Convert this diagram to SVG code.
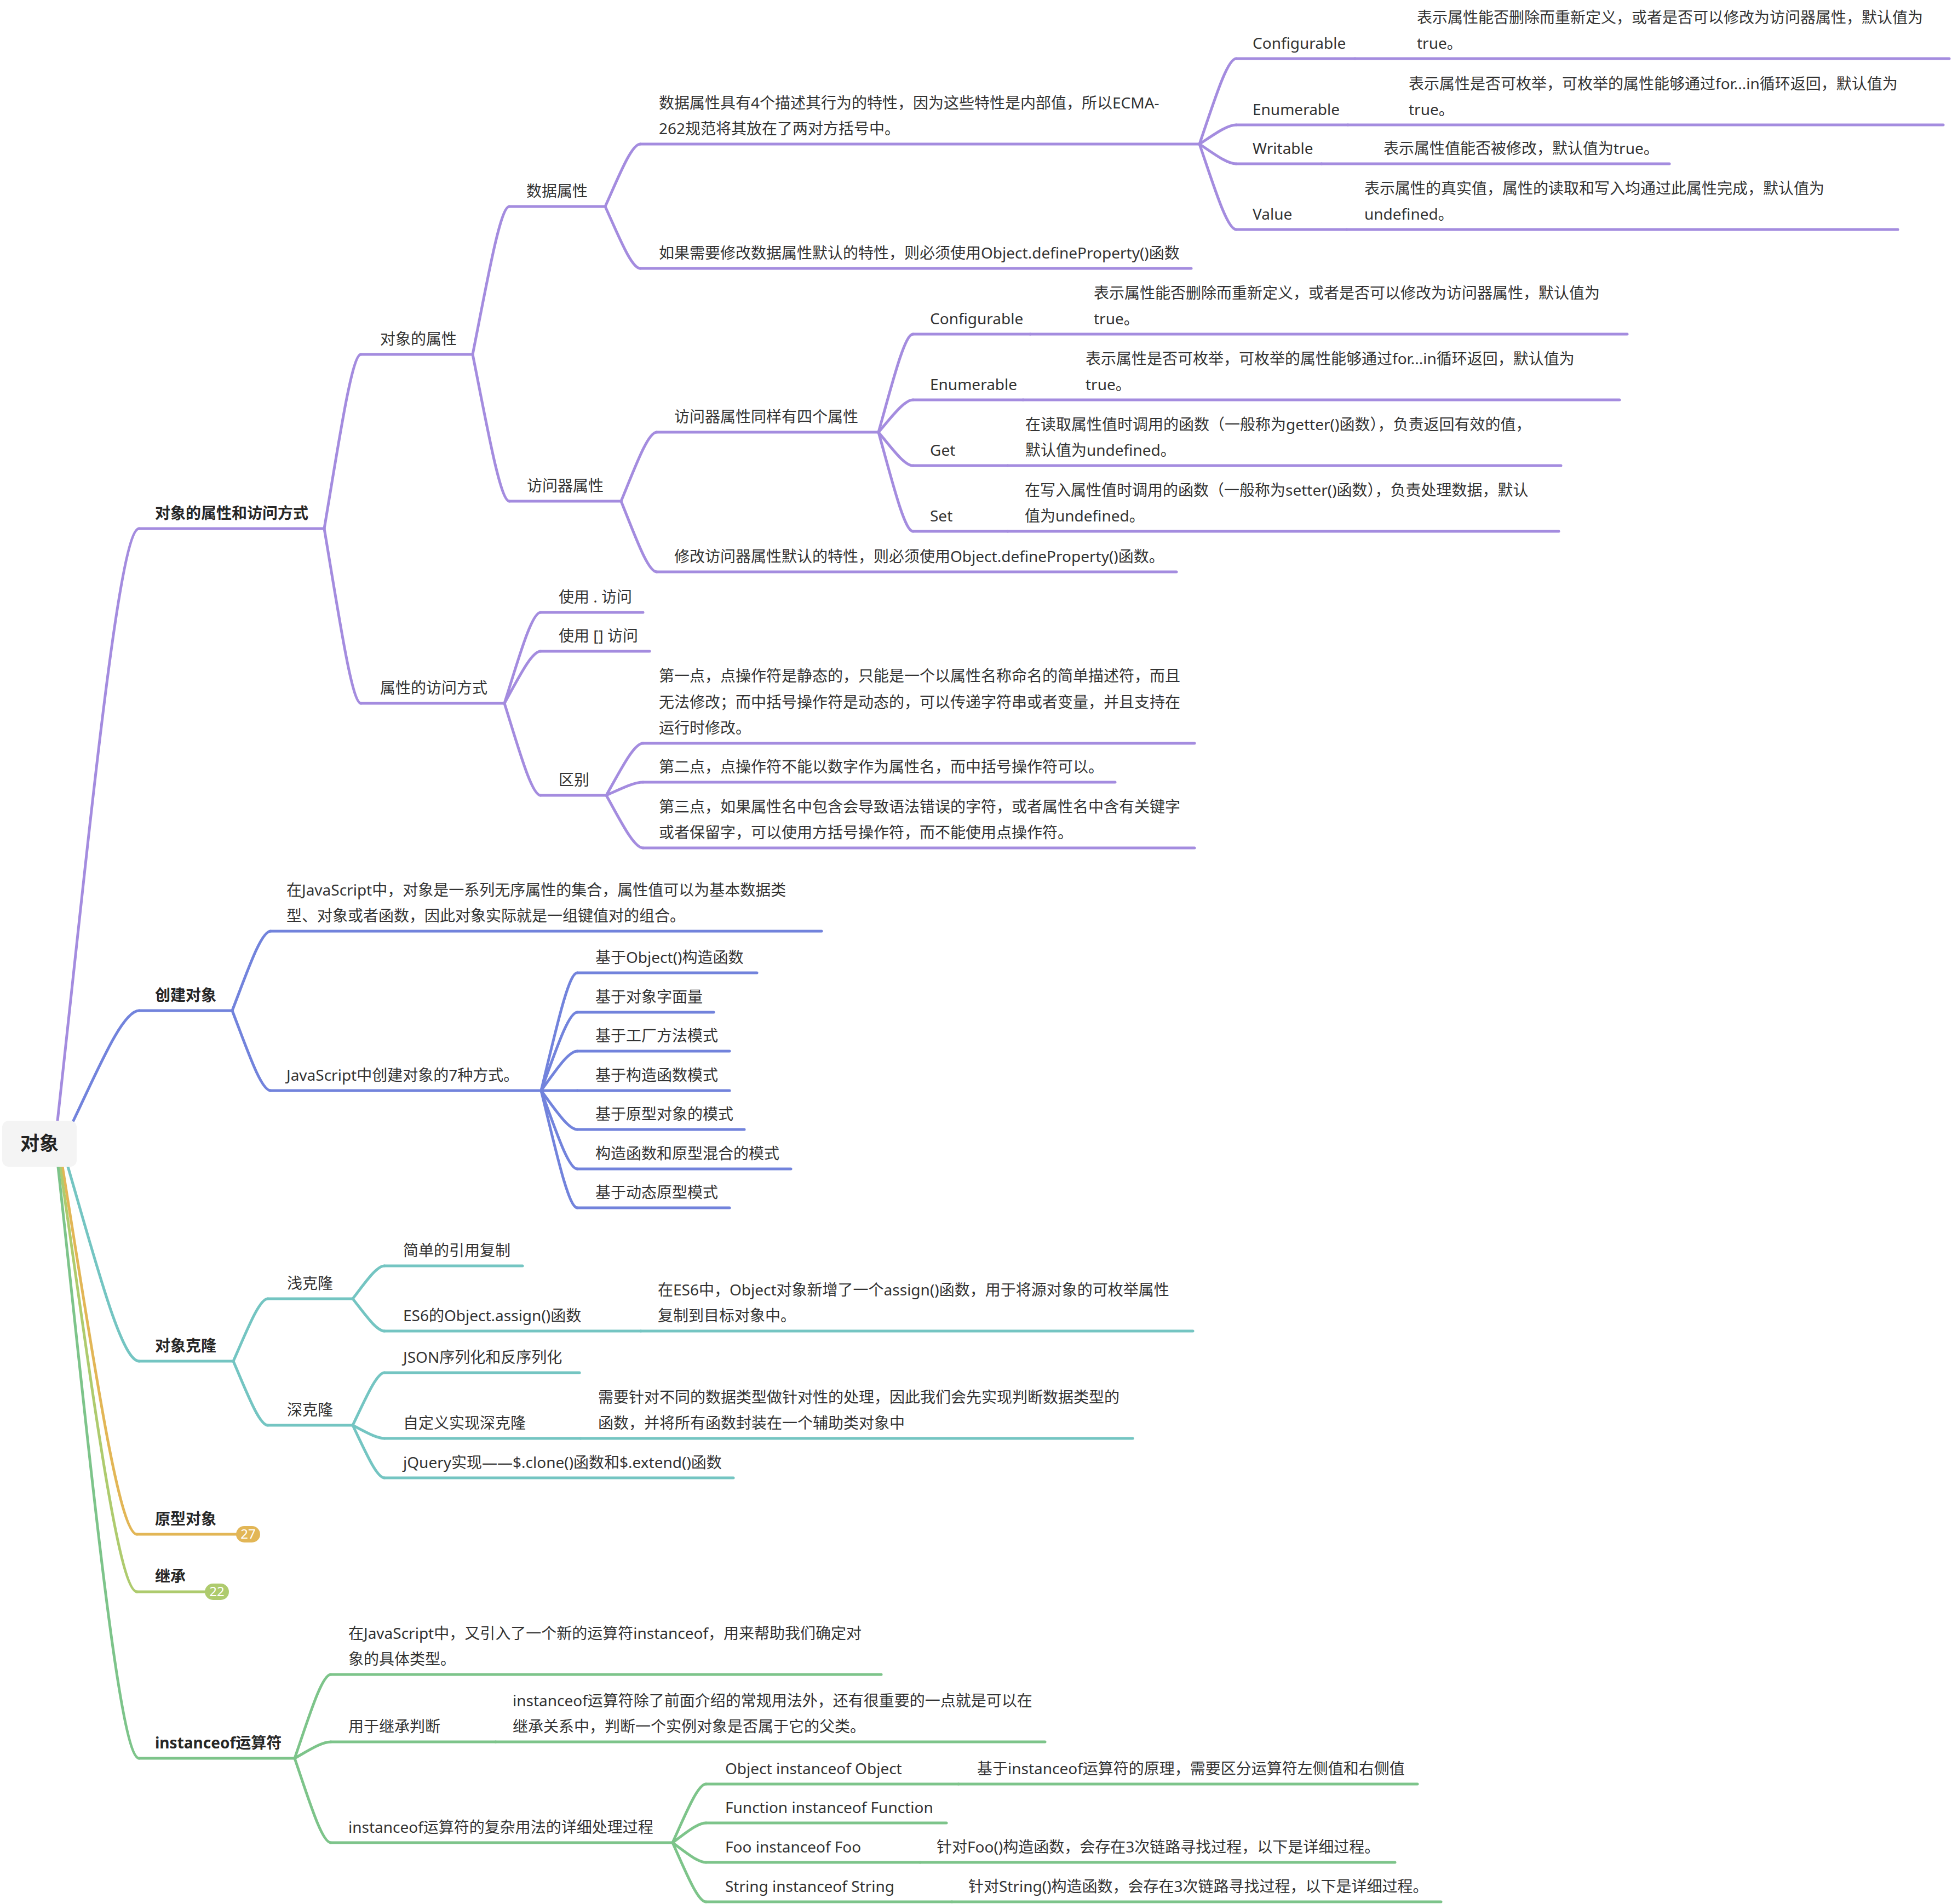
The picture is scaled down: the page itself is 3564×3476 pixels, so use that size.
<svg xmlns="http://www.w3.org/2000/svg" width="3564" height="3476" viewBox="0 0 3564 3476">
<style>
text{font-family:"Noto Sans","Noto Sans CJK SC",sans-serif;font-size:28px;fill:#333}
.b{font-weight:bold;fill:#262626}
.root{font-size:35px;font-weight:bold;fill:#222}
.badge{font-size:24px;fill:#fff}
path{fill:none;stroke-width:5;stroke-linecap:round}
.p{stroke:#A48CDF}
.bl{stroke:#7283DC}
.tl{stroke:#74C5C2}
.gd{stroke:#E2B656}
.yg{stroke:#AECB6E}
.gr{stroke:#7DC48A}
</style>
<rect width="3564" height="3476" fill="#fff"/>
<g id="connectors">
<path class="p" d="M105,2046 C164.6,1505.5 216.8,965 254,965"/>
<path class="bl" d="M134,2046 C182,1945.5 224,1845 254,1845"/>
<path class="tl" d="M124,2130 C176,2307.5 221.5,2485 254,2485"/>
<path class="gd" d="M114,2130 C168.4,2465.5 216,2801 250,2801"/>
<path class="yg" d="M110,2130 C166,2518 215,2906 250,2906"/>
<path class="gr" d="M106,2130 C165.2,2670 217,3210 254,3210"/>
<path class="p" d="M592,965 C618.8,806 642.3,647 659,647"/>
<path class="p" d="M592,965 C618.8,1124.5 642.3,1284 659,1284"/>
<path class="p" d="M863,647 C889.8,512 913.3,377 930,377"/>
<path class="p" d="M863,647 C889.8,781 913.3,915 930,915"/>
<path class="p" d="M1105,377 C1130.6,320 1153,263 1169,263"/>
<path class="p" d="M1105,377 C1130.6,433.5 1153,490 1169,490"/>
<path class="p" d="M2190,263 C2216.8,185 2240.3,107 2257,107"/>
<path class="p" d="M2190,263 C2216.8,245.5 2240.3,228 2257,228"/>
<path class="p" d="M2190,263 C2216.8,281 2240.3,299 2257,299"/>
<path class="p" d="M2190,263 C2216.8,341 2240.3,419 2257,419"/>
<path class="p" d="M1134,915 C1160,852 1182.8,789 1199,789"/>
<path class="p" d="M1134,915 C1160,979.5 1182.8,1044 1199,1044"/>
<path class="p" d="M1604,789 C1629.2,699.5 1651.3,610 1667,610"/>
<path class="p" d="M1604,789 C1629.2,759.5 1651.3,730 1667,730"/>
<path class="p" d="M1604,789 C1629.2,819.5 1651.3,850 1667,850"/>
<path class="p" d="M1604,789 C1629.2,879.5 1651.3,970 1667,970"/>
<path class="p" d="M921,1284 C947.4,1201 970.5,1118 987,1118"/>
<path class="p" d="M921,1284 C947.4,1236.5 970.5,1189 987,1189"/>
<path class="p" d="M921,1284 C947.4,1368 970.5,1452 987,1452"/>
<path class="p" d="M1107,1452 C1133.8,1404.5 1157.3,1357 1174,1357"/>
<path class="p" d="M1107,1452 C1133.8,1440 1157.3,1428 1174,1428"/>
<path class="p" d="M1107,1452 C1133.8,1500 1157.3,1548 1174,1548"/>
<path class="bl" d="M424,1845 C452,1772.5 476.5,1700 494,1700"/>
<path class="bl" d="M424,1845 C452,1918 476.5,1991 494,1991"/>
<path class="bl" d="M988,1991 C1014.4,1883.5 1037.5,1776 1054,1776"/>
<path class="bl" d="M988,1991 C1014.4,1919.5 1037.5,1848 1054,1848"/>
<path class="bl" d="M988,1991 C1014.4,1955 1037.5,1919 1054,1919"/>
<path class="bl" d="M988,1991 L1054,1991"/>
<path class="bl" d="M988,1991 C1014.4,2026.5 1037.5,2062 1054,2062"/>
<path class="bl" d="M988,1991 C1014.4,2062.5 1037.5,2134 1054,2134"/>
<path class="bl" d="M988,1991 C1014.4,2098 1037.5,2205 1054,2205"/>
<path class="tl" d="M426,2485 C451.2,2428 473.3,2371 489,2371"/>
<path class="tl" d="M426,2485 C451.2,2543.5 473.3,2602 489,2602"/>
<path class="tl" d="M644,2371 C667.2,2341 687.5,2311 702,2311"/>
<path class="tl" d="M644,2371 C667.2,2400.5 687.5,2430 702,2430"/>
<path class="tl" d="M644,2602 C667.2,2554 687.5,2506 702,2506"/>
<path class="tl" d="M644,2602 C667.2,2614 687.5,2626 702,2626"/>
<path class="tl" d="M644,2602 C667.2,2650 687.5,2698 702,2698"/>
<path class="gr" d="M538,3210 C564.4,3133.5 587.5,3057 604,3057"/>
<path class="gr" d="M538,3210 C564.4,3195 587.5,3180 604,3180"/>
<path class="gr" d="M538,3210 C564.4,3287 587.5,3364 604,3364"/>
<path class="gr" d="M1228,3364 C1252.4,3310.5 1273.8,3257 1289,3257"/>
<path class="gr" d="M1228,3364 C1252.4,3346 1273.8,3328 1289,3328"/>
<path class="gr" d="M1228,3364 C1252.4,3382 1273.8,3400 1289,3400"/>
<path class="gr" d="M1228,3364 C1252.4,3418 1273.8,3472 1289,3472"/>
</g>
<g id="n-root"><rect x="4" y="2046" width="136" height="84" rx="12" fill="#F4F4F4"/><text class="root" x="72" y="2100" text-anchor="middle">对象</text></g>
<g id="n-attr-access"><path class="p" d="M254,965 H592"/><text class="b" x="283" y="947">对象的属性和访问方式</text></g>
<g id="n-obj-attr"><path class="p" d="M659,647 H863"/><text x="694" y="629">对象的属性</text></g>
<g id="n-data-attr"><path class="p" d="M930,377 H1105"/><text x="961" y="359">数据属性</text></g>
<g id="n-data-desc"><path class="p" d="M1169,263 H2190"/><text x="1203" y="198">数据属性具有4个描述其行为的特性，因为这些特性是内部值，所以ECMA-</text><text x="1203" y="245">262规范将其放在了两对方括号中。</text></g>
<g id="n-d-configurable"><path class="p" d="M2257,107 H2474"/><text x="2287" y="89">Configurable</text></g>
<g id="n-d-configurable-desc"><path class="p" d="M2474,107 H3559"/><text x="2587" y="42">表示属性能否删除而重新定义，或者是否可以修改为访问器属性，默认值为</text><text x="2587" y="89">true。</text></g>
<g id="n-d-enumerable"><path class="p" d="M2257,228 H2461"/><text x="2287" y="210">Enumerable</text></g>
<g id="n-d-enumerable-desc"><path class="p" d="M2461,228 H3548"/><text x="2572" y="163">表示属性是否可枚举，可枚举的属性能够通过for...in循环返回，默认值为</text><text x="2572" y="210">true。</text></g>
<g id="n-d-writable"><path class="p" d="M2257,299 H2413"/><text x="2287" y="281">Writable</text></g>
<g id="n-d-writable-desc"><path class="p" d="M2413,299 H3048"/><text x="2526" y="281">表示属性值能否被修改，默认值为true。</text></g>
<g id="n-d-value"><path class="p" d="M2257,419 H2459"/><text x="2287" y="401">Value</text></g>
<g id="n-d-value-desc"><path class="p" d="M2459,419 H3465"/><text x="2491" y="354">表示属性的真实值，属性的读取和写入均通过此属性完成，默认值为</text><text x="2491" y="401">undefined。</text></g>
<g id="n-data-modify"><path class="p" d="M1169,490 H2175"/><text x="1203" y="472">如果需要修改数据属性默认的特性，则必须使用Object.defineProperty()函数</text></g>
<g id="n-accessor"><path class="p" d="M930,915 H1134"/><text x="962" y="897">访问器属性</text></g>
<g id="n-accessor-four"><path class="p" d="M1199,789 H1604"/><text x="1231" y="771">访问器属性同样有四个属性</text></g>
<g id="n-a-configurable"><path class="p" d="M1667,610 H1881"/><text x="1698" y="592">Configurable</text></g>
<g id="n-a-configurable-desc"><path class="p" d="M1881,610 H2971"/><text x="1997" y="545">表示属性能否删除而重新定义，或者是否可以修改为访问器属性，默认值为</text><text x="1997" y="592">true。</text></g>
<g id="n-a-enumerable"><path class="p" d="M1667,730 H1868"/><text x="1698" y="712">Enumerable</text></g>
<g id="n-a-enumerable-desc"><path class="p" d="M1868,730 H2957"/><text x="1982" y="665">表示属性是否可枚举，可枚举的属性能够通过for...in循环返回，默认值为</text><text x="1982" y="712">true。</text></g>
<g id="n-a-get"><path class="p" d="M1667,850 H1840"/><text x="1698" y="832">Get</text></g>
<g id="n-a-get-desc"><path class="p" d="M1840,850 H2850"/><text x="1872" y="785">在读取属性值时调用的函数（一般称为getter()函数），负责返回有效的值，</text><text x="1872" y="832">默认值为undefined。</text></g>
<g id="n-a-set"><path class="p" d="M1667,970 H1840"/><text x="1698" y="952">Set</text></g>
<g id="n-a-set-desc"><path class="p" d="M1840,970 H2846"/><text x="1871" y="905">在写入属性值时调用的函数（一般称为setter()函数），负责处理数据，默认</text><text x="1871" y="952">值为undefined。</text></g>
<g id="n-accessor-modify"><path class="p" d="M1199,1044 H2148"/><text x="1231" y="1026">修改访问器属性默认的特性，则必须使用Object.defineProperty()函数。</text></g>
<g id="n-access-way"><path class="p" d="M659,1284 H921"/><text x="694" y="1266">属性的访问方式</text></g>
<g id="n-dot"><path class="p" d="M987,1118 H1174"/><text x="1020" y="1100">使用 . 访问</text></g>
<g id="n-bracket"><path class="p" d="M987,1189 H1186"/><text x="1020" y="1171">使用 [] 访问</text></g>
<g id="n-diff"><path class="p" d="M987,1452 H1107"/><text x="1020" y="1434">区别</text></g>
<g id="n-diff1"><path class="p" d="M1174,1357 H2181"/><text x="1203" y="1244">第一点，点操作符是静态的，只能是一个以属性名称命名的简单描述符，而且</text><text x="1203" y="1292">无法修改；而中括号操作符是动态的，可以传递字符串或者变量，并且支持在</text><text x="1203" y="1339">运行时修改。</text></g>
<g id="n-diff2"><path class="p" d="M1174,1428 H2036"/><text x="1203" y="1410">第二点，点操作符不能以数字作为属性名，而中括号操作符可以。</text></g>
<g id="n-diff3"><path class="p" d="M1174,1548 H2181"/><text x="1203" y="1483">第三点，如果属性名中包含会导致语法错误的字符，或者属性名中含有关键字</text><text x="1203" y="1530">或者保留字，可以使用方括号操作符，而不能使用点操作符。</text></g>
<g id="n-create"><path class="bl" d="M254,1845 H424"/><text class="b" x="283" y="1827">创建对象</text></g>
<g id="n-create-desc"><path class="bl" d="M494,1700 H1500"/><text x="523" y="1635">在JavaScript中，对象是一系列无序属性的集合，属性值可以为基本数据类</text><text x="523" y="1682">型、对象或者函数，因此对象实际就是一组键值对的组合。</text></g>
<g id="n-create-7"><path class="bl" d="M494,1991 H988"/><text x="523" y="1973">JavaScript中创建对象的7种方式。</text></g>
<g id="n-c1"><path class="bl" d="M1054,1776 H1382"/><text x="1087" y="1758">基于Object()构造函数</text></g>
<g id="n-c2"><path class="bl" d="M1054,1848 H1303"/><text x="1087" y="1830">基于对象字面量</text></g>
<g id="n-c3"><path class="bl" d="M1054,1919 H1332"/><text x="1087" y="1901">基于工厂方法模式</text></g>
<g id="n-c4"><path class="bl" d="M1054,1991 H1332"/><text x="1087" y="1973">基于构造函数模式</text></g>
<g id="n-c5"><path class="bl" d="M1054,2062 H1359"/><text x="1087" y="2044">基于原型对象的模式</text></g>
<g id="n-c6"><path class="bl" d="M1054,2134 H1444"/><text x="1087" y="2116">构造函数和原型混合的模式</text></g>
<g id="n-c7"><path class="bl" d="M1054,2205 H1332"/><text x="1087" y="2187">基于动态原型模式</text></g>
<g id="n-clone"><path class="tl" d="M254,2485 H426"/><text class="b" x="283" y="2467">对象克隆</text></g>
<g id="n-shallow"><path class="tl" d="M489,2371 H644"/><text x="524" y="2353">浅克隆</text></g>
<g id="n-deep"><path class="tl" d="M489,2602 H644"/><text x="524" y="2584">深克隆</text></g>
<g id="n-ref-copy"><path class="tl" d="M702,2311 H954"/><text x="736" y="2293">简单的引用复制</text></g>
<g id="n-assign"><path class="tl" d="M702,2430 H1170"/><text x="736" y="2412">ES6的Object.assign()函数</text></g>
<g id="n-assign-desc"><path class="tl" d="M1170,2430 H2178"/><text x="1201" y="2365">在ES6中，Object对象新增了一个assign()函数，用于将源对象的可枚举属性</text><text x="1201" y="2412">复制到目标对象中。</text></g>
<g id="n-json"><path class="tl" d="M702,2506 H1058"/><text x="736" y="2488">JSON序列化和反序列化</text></g>
<g id="n-custom"><path class="tl" d="M702,2626 H1060"/><text x="736" y="2608">自定义实现深克隆</text></g>
<g id="n-custom-desc"><path class="tl" d="M1060,2626 H2068"/><text x="1092" y="2561">需要针对不同的数据类型做针对性的处理，因此我们会先实现判断数据类型的</text><text x="1092" y="2608">函数，并将所有函数封装在一个辅助类对象中</text></g>
<g id="n-jquery"><path class="tl" d="M702,2698 H1339"/><text x="736" y="2680">jQuery实现——$.clone()函数和$.extend()函数</text></g>
<g id="n-proto"><path class="gd" d="M250,2801 H440"/><text class="b" x="283" y="2783">原型对象</text><rect x="431" y="2786" width="44" height="30" rx="15" fill="#E2B656"/><text class="badge" x="453" y="2809" text-anchor="middle">27</text></g>
<g id="n-inherit"><path class="yg" d="M250,2906 H380"/><text class="b" x="283" y="2888">继承</text><rect x="374" y="2891" width="44" height="30" rx="15" fill="#AECB6E"/><text class="badge" x="396" y="2914" text-anchor="middle">22</text></g>
<g id="n-instanceof"><path class="gr" d="M254,3210 H538"/><text class="b" x="283" y="3192">instanceof运算符</text></g>
<g id="n-inst-desc"><path class="gr" d="M604,3057 H1609"/><text x="636" y="2992">在JavaScript中，又引入了一个新的运算符instanceof，用来帮助我们确定对</text><text x="636" y="3039">象的具体类型。</text></g>
<g id="n-inst-inherit"><path class="gr" d="M604,3180 H905"/><text x="636" y="3162">用于继承判断</text></g>
<g id="n-inst-inherit-desc"><path class="gr" d="M905,3180 H1908"/><text x="936" y="3115">instanceof运算符除了前面介绍的常规用法外，还有很重要的一点就是可以在</text><text x="936" y="3162">继承关系中，判断一个实例对象是否属于它的父类。</text></g>
<g id="n-inst-complex"><path class="gr" d="M604,3364 H1228"/><text x="636" y="3346">instanceof运算符的复杂用法的详细处理过程</text></g>
<g id="n-obj-obj"><path class="gr" d="M1289,3257 H1750"/><text x="1324" y="3239">Object instanceof Object</text></g>
<g id="n-obj-obj-desc"><path class="gr" d="M1750,3257 H2588"/><text x="1784" y="3239">基于instanceof运算符的原理，需要区分运算符左侧值和右侧值</text></g>
<g id="n-fn-fn"><path class="gr" d="M1289,3328 H1728"/><text x="1324" y="3310">Function instanceof Function</text></g>
<g id="n-foo"><path class="gr" d="M1289,3400 H1680"/><text x="1324" y="3382">Foo instanceof Foo</text></g>
<g id="n-foo-desc"><path class="gr" d="M1680,3400 H2547"/><text x="1710" y="3382">针对Foo()构造函数，会存在3次链路寻找过程，以下是详细过程。</text></g>
<g id="n-str"><path class="gr" d="M1289,3472 H1738"/><text x="1324" y="3454">String instanceof String</text></g>
<g id="n-str-desc"><path class="gr" d="M1738,3472 H2631"/><text x="1768" y="3454">针对String()构造函数，会存在3次链路寻找过程，以下是详细过程。</text></g>
</svg>
